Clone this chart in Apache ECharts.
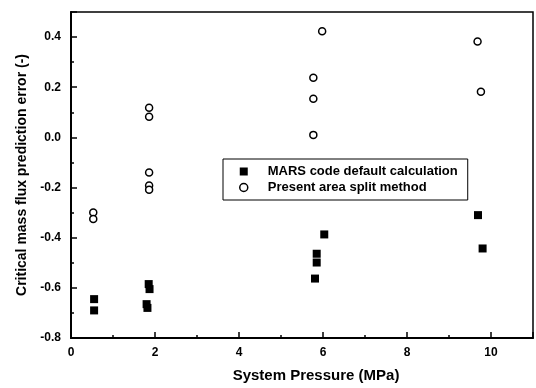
<!DOCTYPE html>
<html>
<head>
<meta charset="utf-8">
<script src="https://cdn.jsdelivr.net/npm/echarts@6/dist/echarts.min.js"></script>
<style>
  html, body { margin: 0; padding: 0; background: #fff; }
  #chart { width: 536px; height: 388px; }
</style>
</head>
<body>
<div id="chart"></div>
<script>
// Critical mass flux prediction error versus system pressure
const seriesNames = ['MARS code default calculation', 'Present area split method'];

// MARS code default calculation: [pressure (MPa), error (-)]
const marsPressure = [0.55, 0.55, 1.80, 1.82, 1.85, 1.87, 5.81, 5.85, 5.85, 6.03, 9.69, 9.80];
const marsError    = [-0.645, -0.690, -0.665, -0.680, -0.585, -0.605, -0.563, -0.499, -0.464, -0.387, -0.310, -0.443];

// Present area split method
const splitPressure = [0.53, 0.53, 1.86, 1.86, 1.86, 1.86, 1.86, 5.77, 5.77, 5.77, 5.98, 9.68, 9.76];
const splitError    = [-0.300, -0.325, 0.118, 0.082, -0.140, -0.192, -0.209, 0.010, 0.154, 0.238, 0.423, 0.382, 0.182];

const xTicks = { min: 0, max: 11, step: 2 };
const yTicks = { min: -0.8, max: 0.5, step: 0.2 };

const pairs = (xs, ys) => xs.map((x, i) => [x, ys[i]]);

const font = 'Liberation Sans, Arial, Helvetica, sans-serif';
const ink = '#000';
const chart = echarts.init(document.getElementById('chart'), null, { renderer: 'canvas' });

chart.setOption({
  animation: false,
  backgroundColor: '#ffffff',
  grid: {
    left: 71, right: 3, top: 12, bottom: 45,
    show: true, borderColor: ink, borderWidth: 1.5
  },
  legend: {
    left: 223, top: 159,
    orient: 'vertical',
    width: 282,
    padding: [6, 10, 6, 16],
    itemGap: 3,
    itemWidth: 8, itemHeight: 8,
    borderColor: ink, borderWidth: 1,
    backgroundColor: '#fff',
    textStyle: { fontFamily: font, fontSize: 13, fontWeight: 'bold', color: ink, padding: [0, 0, 0, 15] },
    data: [
      { name: seriesNames[0], icon: 'rect' },
      { name: seriesNames[1], icon: 'circle', itemStyle: { color: '#fff', borderColor: ink, borderWidth: 1.5 } }
    ]
  },
  xAxis: {
    type: 'value',
    min: xTicks.min, max: xTicks.max, interval: xTicks.step,
    name: 'System Pressure (MPa)',
    nameLocation: 'middle', nameGap: 30,
    nameTextStyle: { fontFamily: font, fontSize: 15, fontWeight: 'bold', color: ink, padding: [0, 0, 0, 28] },
    axisLine: { show: true, onZero: false, lineStyle: { color: ink, width: 2 } },
    axisTick: { show: true, inside: true, length: 6, lineStyle: { color: ink, width: 1.5 } },
    minorTick: { show: true, splitNumber: 2, length: 3, lineStyle: { color: ink, width: 1.5 } },
    splitLine: { show: false },
    axisLabel: { showMaxLabel: false, margin: 9, fontFamily: font, fontSize: 12, fontWeight: 'bold', color: ink }
  },
  yAxis: {
    type: 'value',
    min: yTicks.min, max: yTicks.max, interval: yTicks.step,
    name: 'Critical mass flux prediction error (-)',
    nameLocation: 'middle', nameGap: 42,
    nameTextStyle: { fontFamily: font, fontSize: 14, fontWeight: 'bold', color: ink },
    axisLine: { show: true, onZero: false, lineStyle: { color: ink, width: 2 } },
    axisTick: { show: true, inside: true, length: 6, lineStyle: { color: ink, width: 1.5 } },
    minorTick: { show: true, splitNumber: 2, length: 3, lineStyle: { color: ink, width: 1.5 } },
    splitLine: { show: false },
    axisLabel: {
      showMaxLabel: false, margin: 10,
      fontFamily: font, fontSize: 12, fontWeight: 'bold', color: ink,
      formatter: v => v.toFixed(1)
    }
  },
  series: [
    {
      name: seriesNames[0],
      type: 'scatter',
      symbol: 'rect', symbolSize: 8,
      itemStyle: { color: ink, opacity: 1 },
      data: pairs(marsPressure, marsError)
    },
    {
      name: seriesNames[1],
      type: 'scatter',
      symbol: 'circle', symbolSize: 7,
      itemStyle: { color: '#fff', borderColor: ink, borderWidth: 1.5, opacity: 1 },
      data: pairs(splitPressure, splitError)
    }
  ]
});
</script>
</body>
</html>
